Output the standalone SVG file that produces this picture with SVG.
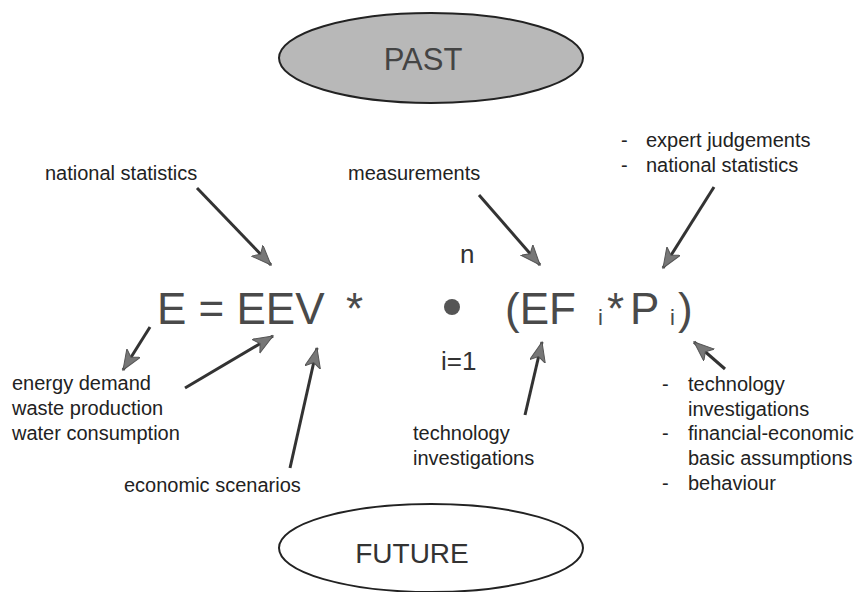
<svg xmlns="http://www.w3.org/2000/svg" width="854" height="592" viewBox="0 0 854 592">
<defs>
<style>
.lbl{font-family:"Liberation Sans",Arial,sans-serif;font-size:20px;fill:#222}
.big{font-family:"Liberation Sans",Arial,sans-serif;font-size:44px;fill:#4a4a4a}
.sub{font-family:"Liberation Sans",Arial,sans-serif;font-size:22px;fill:#4a4a4a}
.idx{font-family:"Liberation Sans",Arial,sans-serif;font-size:26px;fill:#333}
.arr{stroke:#333;stroke-width:3;fill:none;marker-end:url(#ah)}
</style>
<marker id="ah" markerUnits="userSpaceOnUse" markerWidth="22" markerHeight="18" refX="20" refY="8" orient="auto">
<path d="M0,0 L20,8 L0,16 L5,8 z" fill="#777" stroke="#555" stroke-width="1"/>
</marker>
</defs>
<rect width="854" height="592" fill="#fff"/>
<g id="past">
<ellipse cx="431" cy="58" rx="152" ry="45" fill="#b8b8b8" stroke="#222" stroke-width="2"/>
<text x="423" y="70" text-anchor="middle" font-family="Liberation Sans, Arial, sans-serif" font-size="31" fill="#444">PAST</text>
</g>
<g id="future">
<ellipse cx="431" cy="548" rx="152" ry="44" fill="#fff" stroke="#222" stroke-width="2"/>
<text x="412" y="563" text-anchor="middle" font-family="Liberation Sans, Arial, sans-serif" font-size="28" fill="#333">FUTURE</text>
</g>
<g id="formula">
<text class="big" x="157" y="324">E = EEV</text>
<text class="big" x="346" y="324">*</text>
<circle cx="452" cy="307" r="8" fill="#555"/>
<text class="idx" x="460" y="263">n</text>
<text class="idx" x="441" y="370">i=1</text>
<text class="big" x="505" y="324">(EF</text>
<text class="sub" x="598" y="325">i</text>
<text class="big" x="607" y="324">*</text>
<text class="big" x="630" y="324">P</text>
<text class="sub" x="670" y="325">i</text>
<text class="big" x="678" y="324">)</text>
</g>
<g id="label-national-statistics"><text class="lbl" x="45" y="180">national statistics</text></g>
<g id="label-measurements"><text class="lbl" x="348" y="180">measurements</text></g>
<g id="label-expert">
<text class="lbl" x="621" y="147">-</text><text class="lbl" x="646" y="147">expert judgements</text>
<text class="lbl" x="621" y="172">-</text><text class="lbl" x="646" y="172">national statistics</text>
</g>
<g id="label-outputs">
<text class="lbl" x="12" y="390">energy demand</text>
<text class="lbl" x="12" y="415">waste production</text>
<text class="lbl" x="12" y="440">water consumption</text>
</g>
<g id="label-economic"><text class="lbl" x="124" y="492">economic scenarios</text></g>
<g id="label-technology">
<text class="lbl" x="413" y="440">technology</text>
<text class="lbl" x="413" y="465">investigations</text>
</g>
<g id="label-right">
<text class="lbl" x="662" y="391">-</text><text class="lbl" x="688" y="391">technology</text>
<text class="lbl" x="688" y="416">investigations</text>
<text class="lbl" x="662" y="440">-</text><text class="lbl" x="688" y="440">financial-economic</text>
<text class="lbl" x="688" y="465">basic assumptions</text>
<text class="lbl" x="662" y="490">-</text><text class="lbl" x="688" y="490">behaviour</text>
</g>
<g id="connectors">
<line class="arr" x1="197" y1="188" x2="271" y2="265"/>
<line class="arr" x1="479" y1="195" x2="540" y2="265"/>
<line class="arr" x1="714" y1="187" x2="663" y2="268"/>
<line class="arr" x1="150" y1="327" x2="123" y2="370"/>
<line class="arr" x1="185" y1="388" x2="273" y2="336"/>
<line class="arr" x1="290" y1="468" x2="317" y2="348"/>
<line class="arr" x1="525" y1="415" x2="542" y2="342"/>
<line class="arr" x1="725" y1="369" x2="694" y2="342"/>
</g>
</svg>
